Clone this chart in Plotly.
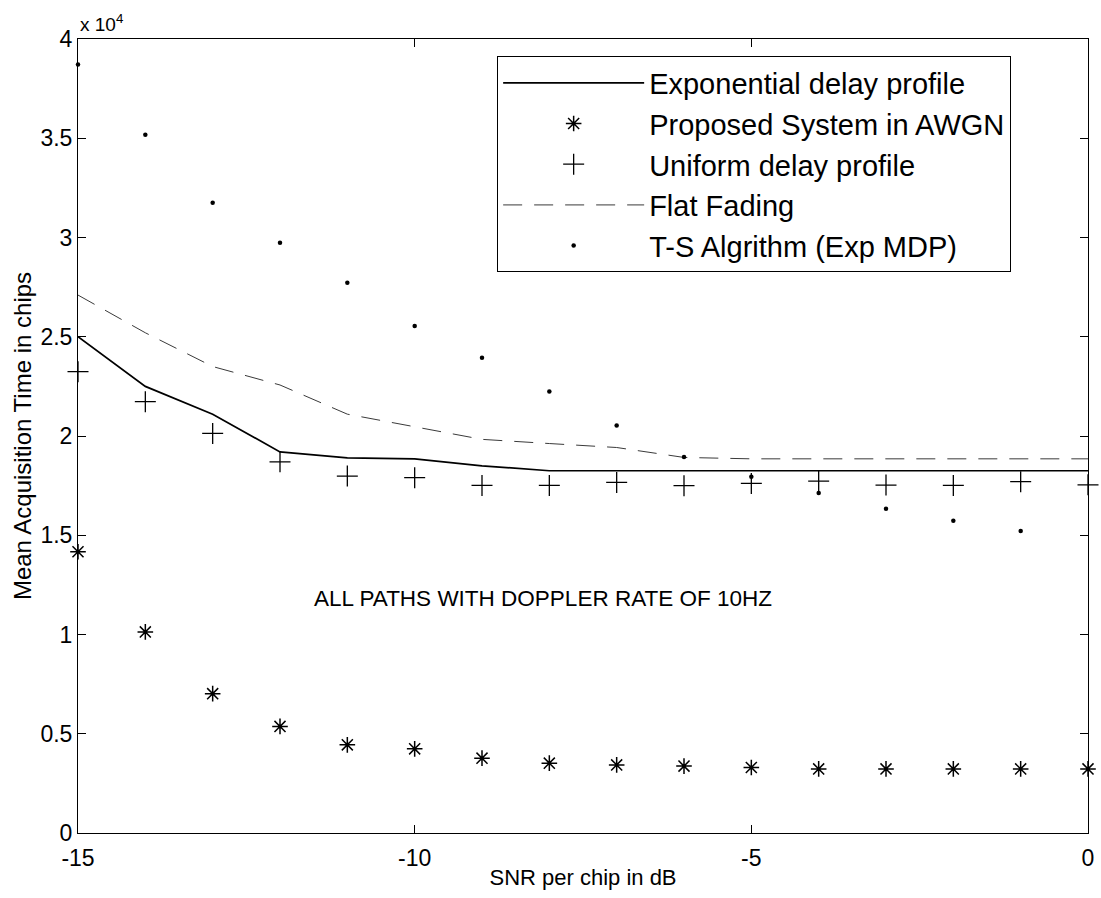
import plotly.graph_objects as go

# SNR per chip (dB)
snr = [-15, -14, -13, -12, -11, -10, -9, -8, -7, -6, -5, -4, -3, -2, -1, 0]

# Mean acquisition time in chips
exp_profile = [25000, 22500, 21100, 19200, 18900, 18850, 18500, 18250, 18250,
               18250, 18250, 18250, 18250, 18250, 18250, 18250]
awgn = [14170, 10130, 7020, 5370, 4440, 4240, 3770, 3520, 3430, 3370, 3300,
        3230, 3230, 3230, 3230, 3230]
uniform_profile = [23240, 21730, 20130, 18700, 17980, 17900, 17510, 17510, 17660,
                   17500, 17610, 17730, 17530, 17510, 17700, 17540]
flat_fading = [27100, 25200, 23500, 22570, 21100, 20470, 19830, 19620, 19420,
               18920, 18850, 18850, 18850, 18850, 18850, 18850]
ts_algorithm = [38720, 35180, 31750, 29740, 27720, 25540, 23940, 22240, 20530,
                18940, 17950, 17130, 16340, 15730, 15220, None]

y_tick_vals = [0, 5000, 10000, 15000, 20000, 25000, 30000, 35000, 40000]
y_tick_text = ["0", "0.5", "1", "1.5", "2", "2.5", "3", "3.5", "4"]
x_tick_vals = [-15, -10, -5, 0]
x_tick_text = ["-15", "-10", "-5", "0"]

FONT = "Liberation Sans, Arial, sans-serif"

fig = go.Figure()
fig.add_trace(go.Scatter(
    x=snr, y=exp_profile, mode="lines", name="Exponential delay profile",
    line=dict(color="black", width=1.7)))
fig.add_trace(go.Scatter(
    x=snr, y=awgn, mode="markers", name="Proposed System in AWGN",
    marker=dict(symbol="asterisk-open", size=13, color="black",
                line=dict(color="black", width=1.5)),
    cliponaxis=False))
fig.add_trace(go.Scatter(
    x=snr, y=uniform_profile, mode="markers", name="Uniform delay profile",
    marker=dict(symbol="cross-thin-open", size=15, color="black",
                line=dict(color="black", width=1.3)),
    cliponaxis=False))
fig.add_trace(go.Scatter(
    x=snr, y=flat_fading, mode="lines", name="Flat Fading",
    line=dict(color="#3a3a3a", width=1, dash="19px,12px")))
fig.add_trace(go.Scatter(
    x=snr, y=ts_algorithm, mode="markers", name="T-S Algrithm (Exp MDP)",
    marker=dict(symbol="circle", size=4.5, color="black"),
    cliponaxis=False))

axis_common = dict(
    showline=True, linecolor="black", linewidth=1, mirror="ticks",
    ticks="inside", ticklen=8, tickwidth=1, tickcolor="black",
    showgrid=False, zeroline=False, automargin=False,
    tickfont=dict(family=FONT, size=23, color="black"),
)

fig.update_xaxes(
    range=[-15, 0], tickvals=x_tick_vals, ticktext=x_tick_text,
    ticklabelstandoff=4,
    title=dict(text="SNR per chip in dB", standoff=0,
               font=dict(family=FONT, size=22, color="black")),
    **axis_common)
fig.update_yaxes(
    range=[0, 40000], tickvals=y_tick_vals, ticktext=y_tick_text,
    title=dict(text="Mean Acquisition Time in chips", standoff=2,
               font=dict(family=FONT, size=24, color="black")),
    **axis_common)

fig.add_annotation(
    x=0, y=1.0, xref="paper", yref="paper", xanchor="left", yanchor="bottom",
    text="x 10<sup>4</sup>", showarrow=False, yshift=2,
    font=dict(family=FONT, size=19, color="black"))
fig.add_annotation(
    x=-11.52, y=11800, xref="x", yref="y", xanchor="left", yanchor="middle",
    text="ALL PATHS WITH DOPPLER RATE OF 10HZ", showarrow=False,
    font=dict(family=FONT, size=22.5, color="black"))

fig.update_layout(
    width=1101, height=898,
    margin=dict(l=78, r=13, t=39, b=65),
    paper_bgcolor="white", plot_bgcolor="white",
    font=dict(family=FONT, color="black"),
    legend=dict(
        x=0.415, y=0.978, xanchor="left", yanchor="top",
        bgcolor="white", bordercolor="black", borderwidth=1,
        font=dict(family=FONT, size=29, color="black"),
        itemwidth=141, tracegroupgap=0,
    ),
)

fig.write_html("out.html")
